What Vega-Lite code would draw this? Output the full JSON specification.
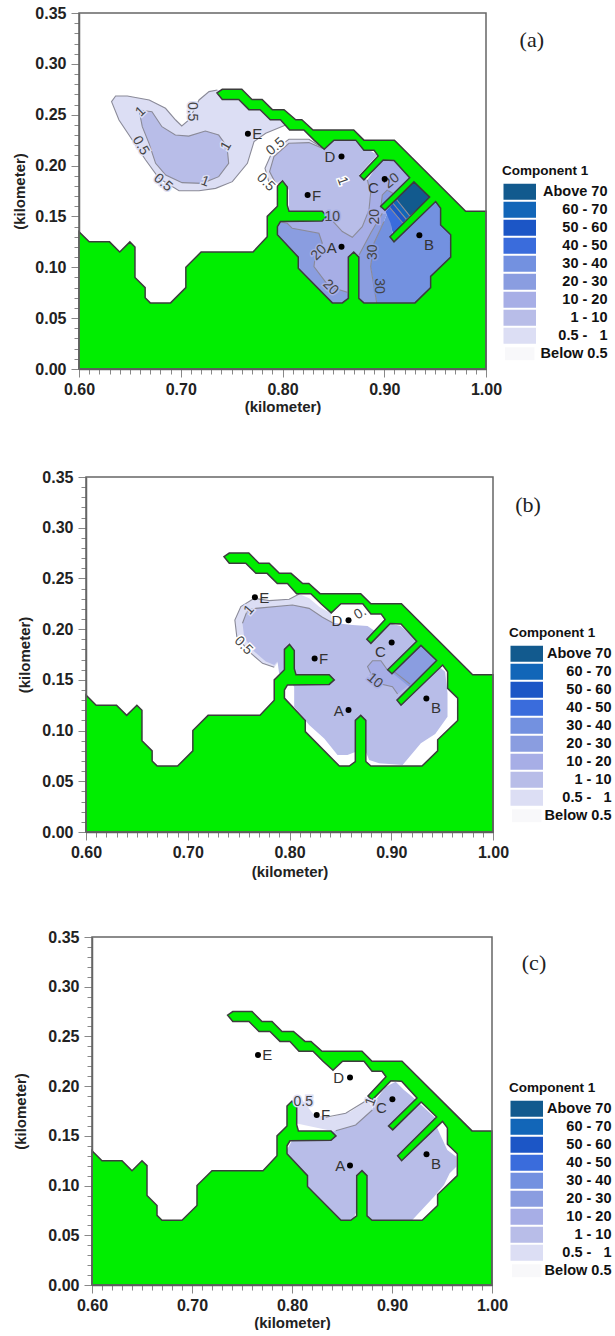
{"$schema":"https://vega.github.io/schema/vega-lite/v6.json","background":"white","padding":{"left":12,"top":5,"right":0,"bottom":0},"bounds":"flush","spacing":105,"config":{"view":{"stroke":null},"font":"Liberation Sans","axis":{"grid":false}},
"datasets":{
"land":[{"x":0.6,"y":0},{"x":0.6,"y":0.135},{"x":0.61,"y":0.125},{"x":0.63,"y":0.125},{"x":0.64,"y":0.115},{"x":0.65,"y":0.125},{"x":0.655,"y":0.12},{"x":0.655,"y":0.09},{"x":0.665,"y":0.08},{"x":0.665,"y":0.07},{"x":0.67,"y":0.065},{"x":0.69,"y":0.065},{"x":0.705,"y":0.08},{"x":0.705,"y":0.1},{"x":0.72,"y":0.115},{"x":0.771,"y":0.115},{"x":0.785,"y":0.13},{"x":0.785,"y":0.15},{"x":0.795,"y":0.16},{"x":0.795,"y":0.18},{"x":0.8,"y":0.185},{"x":0.8047,"y":0.179},{"x":0.8047,"y":0.161},{"x":0.8064,"y":0.155},{"x":0.839,"y":0.155},{"x":0.844,"y":0.15},{"x":0.839,"y":0.1455},{"x":0.798,"y":0.145},{"x":0.795,"y":0.14},{"x":0.795,"y":0.132},{"x":0.8155,"y":0.11},{"x":0.8155,"y":0.099},{"x":0.849,"y":0.065},{"x":0.8588,"y":0.065},{"x":0.8647,"y":0.0695},{"x":0.8647,"y":0.11},{"x":0.87,"y":0.115},{"x":0.875,"y":0.11},{"x":0.875,"y":0.0695},{"x":0.88,"y":0.065},{"x":0.9302,"y":0.065},{"x":0.9456,"y":0.08},{"x":0.9456,"y":0.091},{"x":0.9653,"y":0.11},{"x":0.9653,"y":0.132},{"x":0.9554,"y":0.1416},{"x":0.9554,"y":0.158},{"x":0.9505,"y":0.1646},{"x":0.9096,"y":0.125},{"x":0.9056,"y":0.13},{"x":0.9446,"y":0.169},{"x":0.9292,"y":0.184},{"x":0.9007,"y":0.156},{"x":0.8965,"y":0.16},{"x":0.925,"y":0.188},{"x":0.9096,"y":0.205},{"x":0.899,"y":0.2055},{"x":0.88,"y":0.186},{"x":0.876,"y":0.19},{"x":0.894,"y":0.2095},{"x":0.89,"y":0.215},{"x":0.88,"y":0.215},{"x":0.872,"y":0.225},{"x":0.8506,"y":0.225},{"x":0.841,"y":0.216},{"x":0.831,"y":0.225},{"x":0.821,"y":0.235},{"x":0.807,"y":0.235},{"x":0.798,"y":0.245},{"x":0.788,"y":0.245},{"x":0.778,"y":0.255},{"x":0.767,"y":0.255},{"x":0.757,"y":0.265},{"x":0.7408,"y":0.265},{"x":0.7356,"y":0.2714},{"x":0.7408,"y":0.275},{"x":0.76,"y":0.275},{"x":0.77,"y":0.265},{"x":0.78,"y":0.265},{"x":0.79,"y":0.255},{"x":0.8015,"y":0.255},{"x":0.813,"y":0.245},{"x":0.819,"y":0.245},{"x":0.83,"y":0.235},{"x":0.87,"y":0.235},{"x":0.88,"y":0.225},{"x":0.91,"y":0.225},{"x":0.98,"y":0.155},{"x":1.0,"y":0.155},{"x":1.0,"y":0},{"x":0.6,"y":0}],
"polys":[
{"p":"a","id":1,"level":"0.5 - 1","x":0.632,"y":0.2628},{"p":"a","id":1,"level":"0.5 - 1","x":0.636,"y":0.2684},{"p":"a","id":1,"level":"0.5 - 1","x":0.6475,"y":0.2684},{"p":"a","id":1,"level":"0.5 - 1","x":0.669,"y":0.2645},{"p":"a","id":1,"level":"0.5 - 1","x":0.685,"y":0.2563},{"p":"a","id":1,"level":"0.5 - 1","x":0.695,"y":0.2448},{"p":"a","id":1,"level":"0.5 - 1","x":0.701,"y":0.2389},{"p":"a","id":1,"level":"0.5 - 1","x":0.708,"y":0.2448},{"p":"a","id":1,"level":"0.5 - 1","x":0.718,"y":0.2645},{"p":"a","id":1,"level":"0.5 - 1","x":0.7278,"y":0.2727},{"p":"a","id":1,"level":"0.5 - 1","x":0.736,"y":0.2743},{"p":"a","id":1,"level":"0.5 - 1","x":0.76,"y":0.27},{"p":"a","id":1,"level":"0.5 - 1","x":0.82,"y":0.24},{"p":"a","id":1,"level":"0.5 - 1","x":0.8031,"y":0.2399},{"p":"a","id":1,"level":"0.5 - 1","x":0.7835,"y":0.2317},{"p":"a","id":1,"level":"0.5 - 1","x":0.772,"y":0.2235},{"p":"a","id":1,"level":"0.5 - 1","x":0.7655,"y":0.2022},{"p":"a","id":1,"level":"0.5 - 1","x":0.7507,"y":0.1842},{"p":"a","id":1,"level":"0.5 - 1","x":0.7343,"y":0.1776},{"p":"a","id":1,"level":"0.5 - 1","x":0.718,"y":0.1753},{"p":"a","id":1,"level":"0.5 - 1","x":0.6983,"y":0.1753},{"p":"a","id":1,"level":"0.5 - 1","x":0.6786,"y":0.1875},{"p":"a","id":1,"level":"0.5 - 1","x":0.6655,"y":0.2055},{"p":"a","id":1,"level":"0.5 - 1","x":0.6524,"y":0.2251},{"p":"a","id":1,"level":"0.5 - 1","x":0.6393,"y":0.2448},
{"p":"a","id":2,"level":"1 - 10","x":0.659,"y":0.2546},{"p":"a","id":2,"level":"1 - 10","x":0.6717,"y":0.253},{"p":"a","id":2,"level":"1 - 10","x":0.6815,"y":0.2382},{"p":"a","id":2,"level":"1 - 10","x":0.6947,"y":0.23},{"p":"a","id":2,"level":"1 - 10","x":0.7078,"y":0.229},{"p":"a","id":2,"level":"1 - 10","x":0.7242,"y":0.234},{"p":"a","id":2,"level":"1 - 10","x":0.7373,"y":0.23},{"p":"a","id":2,"level":"1 - 10","x":0.7455,"y":0.2186},{"p":"a","id":2,"level":"1 - 10","x":0.7471,"y":0.2022},{"p":"a","id":2,"level":"1 - 10","x":0.7373,"y":0.1891},{"p":"a","id":2,"level":"1 - 10","x":0.721,"y":0.1825},{"p":"a","id":2,"level":"1 - 10","x":0.7013,"y":0.1832},{"p":"a","id":2,"level":"1 - 10","x":0.6852,"y":0.1907},{"p":"a","id":2,"level":"1 - 10","x":0.6753,"y":0.2022},{"p":"a","id":2,"level":"1 - 10","x":0.6688,"y":0.2218},{"p":"a","id":2,"level":"1 - 10","x":0.6622,"y":0.2382},
{"p":"a","id":3,"level":"0.5 - 1","x":0.8407,"y":0.2164},{"p":"a","id":3,"level":"0.5 - 1","x":0.826,"y":0.2259},{"p":"a","id":3,"level":"0.5 - 1","x":0.8063,"y":0.2259},{"p":"a","id":3,"level":"0.5 - 1","x":0.79,"y":0.2137},{"p":"a","id":3,"level":"0.5 - 1","x":0.7828,"y":0.1973},{"p":"a","id":3,"level":"0.5 - 1","x":0.7883,"y":0.1777},{"p":"a","id":3,"level":"0.5 - 1","x":0.7998,"y":0.1842},{"p":"a","id":3,"level":"0.5 - 1","x":0.8227,"y":0.2088},
{"p":"a","id":4,"level":"10 - 20","x":0.7932,"y":0.1433},{"p":"a","id":4,"level":"10 - 20","x":0.8424,"y":0.1531},{"p":"a","id":4,"level":"10 - 20","x":0.8588,"y":0.1351},{"p":"a","id":4,"level":"10 - 20","x":0.8686,"y":0.1295},{"p":"a","id":4,"level":"10 - 20","x":0.8784,"y":0.14},{"p":"a","id":4,"level":"10 - 20","x":0.885,"y":0.1564},{"p":"a","id":4,"level":"10 - 20","x":0.8866,"y":0.1728},{"p":"a","id":4,"level":"10 - 20","x":0.8834,"y":0.1859},{"p":"a","id":4,"level":"10 - 20","x":0.8981,"y":0.2072},{"p":"a","id":4,"level":"10 - 20","x":0.9112,"y":0.2072},{"p":"a","id":4,"level":"10 - 20","x":0.9276,"y":0.1875},{"p":"a","id":4,"level":"10 - 20","x":0.903,"y":0.1531},{"p":"a","id":4,"level":"10 - 20","x":0.8981,"y":0.1531},{"p":"a","id":4,"level":"10 - 20","x":0.8866,"y":0.1334},{"p":"a","id":4,"level":"10 - 20","x":0.8752,"y":0.1121},{"p":"a","id":4,"level":"10 - 20","x":0.8702,"y":0.1007},{"p":"a","id":4,"level":"10 - 20","x":0.8702,"y":0.0613},{"p":"a","id":4,"level":"10 - 20","x":0.8457,"y":0.0613},{"p":"a","id":4,"level":"10 - 20","x":0.7916,"y":0.1302},
{"p":"a","id":5,"level":"1 - 10","x":0.8391,"y":0.217},{"p":"a","id":5,"level":"1 - 10","x":0.826,"y":0.2226},{"p":"a","id":5,"level":"1 - 10","x":0.8063,"y":0.2219},{"p":"a","id":5,"level":"1 - 10","x":0.7916,"y":0.2088},{"p":"a","id":5,"level":"1 - 10","x":0.7873,"y":0.1941},{"p":"a","id":5,"level":"1 - 10","x":0.7932,"y":0.1826},{"p":"a","id":5,"level":"1 - 10","x":0.7998,"y":0.1859},{"p":"a","id":5,"level":"1 - 10","x":0.8063,"y":0.176},{"p":"a","id":5,"level":"1 - 10","x":0.8063,"y":0.1531},{"p":"a","id":5,"level":"1 - 10","x":0.8424,"y":0.1531},{"p":"a","id":5,"level":"1 - 10","x":0.8588,"y":0.1351},{"p":"a","id":5,"level":"1 - 10","x":0.8686,"y":0.1295},{"p":"a","id":5,"level":"1 - 10","x":0.8784,"y":0.14},{"p":"a","id":5,"level":"1 - 10","x":0.885,"y":0.1564},{"p":"a","id":5,"level":"1 - 10","x":0.8866,"y":0.1728},{"p":"a","id":5,"level":"1 - 10","x":0.8834,"y":0.1859},{"p":"a","id":5,"level":"1 - 10","x":0.8752,"y":0.1908},{"p":"a","id":5,"level":"1 - 10","x":0.8932,"y":0.2105},{"p":"a","id":5,"level":"1 - 10","x":0.8801,"y":0.2186},{"p":"a","id":5,"level":"1 - 10","x":0.8702,"y":0.2285},{"p":"a","id":5,"level":"1 - 10","x":0.8506,"y":0.2285},
{"p":"a","id":6,"level":"20 - 30","x":0.7965,"y":0.1449},{"p":"a","id":6,"level":"20 - 30","x":0.8047,"y":0.1433},{"p":"a","id":6,"level":"20 - 30","x":0.8096,"y":0.1383},{"p":"a","id":6,"level":"20 - 30","x":0.8358,"y":0.1334},{"p":"a","id":6,"level":"20 - 30","x":0.8391,"y":0.1236},{"p":"a","id":6,"level":"20 - 30","x":0.8326,"y":0.1138},{"p":"a","id":6,"level":"20 - 30","x":0.8309,"y":0.1007},{"p":"a","id":6,"level":"20 - 30","x":0.8457,"y":0.081},{"p":"a","id":6,"level":"20 - 30","x":0.8637,"y":0.0754},{"p":"a","id":6,"level":"20 - 30","x":0.867,"y":0.0613},{"p":"a","id":6,"level":"20 - 30","x":0.8457,"y":0.0613},{"p":"a","id":6,"level":"20 - 30","x":0.7916,"y":0.1302},
{"p":"a","id":7,"level":"20 - 30","x":0.8981,"y":0.1531},{"p":"a","id":7,"level":"20 - 30","x":0.8866,"y":0.1334},{"p":"a","id":7,"level":"20 - 30","x":0.8752,"y":0.1121},{"p":"a","id":7,"level":"20 - 30","x":0.8702,"y":0.1007},{"p":"a","id":7,"level":"20 - 30","x":0.8702,"y":0.0613},{"p":"a","id":7,"level":"20 - 30","x":0.8932,"y":0.0613},{"p":"a","id":7,"level":"20 - 30","x":0.8866,"y":0.1007},{"p":"a","id":7,"level":"20 - 30","x":0.8899,"y":0.1236},{"p":"a","id":7,"level":"20 - 30","x":0.8997,"y":0.1449},{"p":"a","id":7,"level":"20 - 30","x":0.903,"y":0.1531},
{"p":"a","id":8,"level":"20 - 30","x":0.8965,"y":0.158},{"p":"a","id":8,"level":"20 - 30","x":0.8981,"y":0.1711},{"p":"a","id":8,"level":"20 - 30","x":0.903,"y":0.176},{"p":"a","id":8,"level":"20 - 30","x":0.9112,"y":0.1711},{"p":"a","id":8,"level":"20 - 30","x":0.903,"y":0.1547},
{"p":"a","id":9,"level":"30 - 40","x":0.903,"y":0.1531},{"p":"a","id":9,"level":"30 - 40","x":0.8997,"y":0.1449},{"p":"a","id":9,"level":"30 - 40","x":0.8899,"y":0.1236},{"p":"a","id":9,"level":"30 - 40","x":0.8866,"y":0.1007},{"p":"a","id":9,"level":"30 - 40","x":0.8932,"y":0.0613},{"p":"a","id":9,"level":"30 - 40","x":0.9325,"y":0.0613},{"p":"a","id":9,"level":"30 - 40","x":0.9669,"y":0.1089},{"p":"a","id":9,"level":"30 - 40","x":0.9669,"y":0.1334},{"p":"a","id":9,"level":"30 - 40","x":0.957,"y":0.1596},{"p":"a","id":9,"level":"30 - 40","x":0.9505,"y":0.1678},{"p":"a","id":9,"level":"30 - 40","x":0.9079,"y":0.1318},{"p":"a","id":9,"level":"30 - 40","x":0.9063,"y":0.1531},
{"p":"a","id":10,"level":"40 - 50","x":0.9014,"y":0.1547},{"p":"a","id":10,"level":"40 - 50","x":0.9053,"y":0.159},{"p":"a","id":10,"level":"40 - 50","x":0.9184,"y":0.1433},{"p":"a","id":10,"level":"40 - 50","x":0.9086,"y":0.1318},{"p":"a","id":10,"level":"40 - 50","x":0.9063,"y":0.1433},
{"p":"a","id":11,"level":"50 - 60","x":0.9053,"y":0.159},{"p":"a","id":11,"level":"50 - 60","x":0.9086,"y":0.1629},{"p":"a","id":11,"level":"50 - 60","x":0.9217,"y":0.1472},{"p":"a","id":11,"level":"50 - 60","x":0.9184,"y":0.1433},
{"p":"a","id":12,"level":"60 - 70","x":0.9086,"y":0.1629},{"p":"a","id":12,"level":"60 - 70","x":0.9119,"y":0.1669},{"p":"a","id":12,"level":"60 - 70","x":0.925,"y":0.1505},{"p":"a","id":12,"level":"60 - 70","x":0.9217,"y":0.1472},
{"p":"a","id":13,"level":"Above 70","x":0.9119,"y":0.1669},{"p":"a","id":13,"level":"Above 70","x":0.9292,"y":0.1859},{"p":"a","id":13,"level":"Above 70","x":0.9472,"y":0.1695},{"p":"a","id":13,"level":"Above 70","x":0.925,"y":0.1505},
{"p":"b","id":21,"level":"0.5 - 1","x":0.8095,"y":0.2347},{"p":"b","id":21,"level":"0.5 - 1","x":0.7997,"y":0.2294},{"p":"b","id":21,"level":"0.5 - 1","x":0.78,"y":0.2281},{"p":"b","id":21,"level":"0.5 - 1","x":0.7653,"y":0.2304},{"p":"b","id":21,"level":"0.5 - 1","x":0.7522,"y":0.2222},{"p":"b","id":21,"level":"0.5 - 1","x":0.7463,"y":0.209},{"p":"b","id":21,"level":"0.5 - 1","x":0.7482,"y":0.1926},{"p":"b","id":21,"level":"0.5 - 1","x":0.7603,"y":0.1778},{"p":"b","id":21,"level":"0.5 - 1","x":0.7735,"y":0.1663},{"p":"b","id":21,"level":"0.5 - 1","x":0.785,"y":0.1624},{"p":"b","id":21,"level":"0.5 - 1","x":0.7931,"y":0.1729},{"p":"b","id":21,"level":"0.5 - 1","x":0.8095,"y":0.1992},{"p":"b","id":21,"level":"0.5 - 1","x":0.8423,"y":0.2058},{"p":"b","id":21,"level":"0.5 - 1","x":0.8406,"y":0.2156},{"p":"b","id":21,"level":"0.5 - 1","x":0.8292,"y":0.2222},{"p":"b","id":21,"level":"0.5 - 1","x":0.8193,"y":0.2304},
{"p":"b","id":22,"level":"1 - 10","x":0.7538,"y":0.2058},{"p":"b","id":22,"level":"1 - 10","x":0.7587,"y":0.2189},{"p":"b","id":22,"level":"1 - 10","x":0.7669,"y":0.2205},{"p":"b","id":22,"level":"1 - 10","x":0.8029,"y":0.2238},{"p":"b","id":22,"level":"1 - 10","x":0.8193,"y":0.2205},{"p":"b","id":22,"level":"1 - 10","x":0.8324,"y":0.2117},{"p":"b","id":22,"level":"1 - 10","x":0.8423,"y":0.2064},{"p":"b","id":22,"level":"1 - 10","x":0.862,"y":0.2041},{"p":"b","id":22,"level":"1 - 10","x":0.8767,"y":0.2031},{"p":"b","id":22,"level":"1 - 10","x":0.8849,"y":0.1975},{"p":"b","id":22,"level":"1 - 10","x":0.898,"y":0.2058},{"p":"b","id":22,"level":"1 - 10","x":0.9094,"y":0.2031},{"p":"b","id":22,"level":"1 - 10","x":0.9209,"y":0.1926},{"p":"b","id":22,"level":"1 - 10","x":0.9406,"y":0.1729},{"p":"b","id":22,"level":"1 - 10","x":0.9471,"y":0.163},{"p":"b","id":22,"level":"1 - 10","x":0.953,"y":0.1581},{"p":"b","id":22,"level":"1 - 10","x":0.9553,"y":0.1367},{"p":"b","id":22,"level":"1 - 10","x":0.9553,"y":0.1137},{"p":"b","id":22,"level":"1 - 10","x":0.9432,"y":0.0966},{"p":"b","id":22,"level":"1 - 10","x":0.9291,"y":0.0874},{"p":"b","id":22,"level":"1 - 10","x":0.9111,"y":0.066},{"p":"b","id":22,"level":"1 - 10","x":0.8881,"y":0.0677},{"p":"b","id":22,"level":"1 - 10","x":0.8783,"y":0.071},{"p":"b","id":22,"level":"1 - 10","x":0.875,"y":0.0792},{"p":"b","id":22,"level":"1 - 10","x":0.8652,"y":0.0792},{"p":"b","id":22,"level":"1 - 10","x":0.857,"y":0.0759},{"p":"b","id":22,"level":"1 - 10","x":0.8472,"y":0.0759},{"p":"b","id":22,"level":"1 - 10","x":0.8341,"y":0.0923},{"p":"b","id":22,"level":"1 - 10","x":0.8193,"y":0.1055},{"p":"b","id":22,"level":"1 - 10","x":0.8046,"y":0.1236},{"p":"b","id":22,"level":"1 - 10","x":0.8046,"y":0.1433},{"p":"b","id":22,"level":"1 - 10","x":0.7997,"y":0.1499},{"p":"b","id":22,"level":"1 - 10","x":0.7898,"y":0.1564},{"p":"b","id":22,"level":"1 - 10","x":0.7882,"y":0.168},{"p":"b","id":22,"level":"1 - 10","x":0.785,"y":0.1647},{"p":"b","id":22,"level":"1 - 10","x":0.7767,"y":0.168},{"p":"b","id":22,"level":"1 - 10","x":0.7636,"y":0.1795},{"p":"b","id":22,"level":"1 - 10","x":0.7554,"y":0.1926},
{"p":"b","id":23,"level":"10 - 20","x":0.8767,"y":0.163},{"p":"b","id":23,"level":"10 - 20","x":0.8816,"y":0.1689},{"p":"b","id":23,"level":"10 - 20","x":0.8898,"y":0.1689},{"p":"b","id":23,"level":"10 - 20","x":0.8963,"y":0.1597},{"p":"b","id":23,"level":"10 - 20","x":0.9029,"y":0.1581},{"p":"b","id":23,"level":"10 - 20","x":0.9183,"y":0.1459},{"p":"b","id":23,"level":"10 - 20","x":0.9062,"y":0.136},{"p":"b","id":23,"level":"10 - 20","x":0.9012,"y":0.1433},{"p":"b","id":23,"level":"10 - 20","x":0.8898,"y":0.1459},{"p":"b","id":23,"level":"10 - 20","x":0.8799,"y":0.1564},
{"p":"b","id":24,"level":"20 - 30","x":0.9258,"y":0.1877},{"p":"b","id":24,"level":"20 - 30","x":0.9471,"y":0.1712},{"p":"b","id":24,"level":"20 - 30","x":0.9176,"y":0.1433},{"p":"b","id":24,"level":"20 - 30","x":0.8996,"y":0.1581},
{"p":"c","id":31,"level":"0.5 - 1","x":0.802,"y":0.1861},{"p":"c","id":31,"level":"0.5 - 1","x":0.8037,"y":0.1626},{"p":"c","id":31,"level":"0.5 - 1","x":0.8437,"y":0.1542},{"p":"c","id":31,"level":"0.5 - 1","x":0.8637,"y":0.1609},{"p":"c","id":31,"level":"0.5 - 1","x":0.882,"y":0.176},{"p":"c","id":31,"level":"0.5 - 1","x":0.8753,"y":0.1861},{"p":"c","id":31,"level":"0.5 - 1","x":0.8587,"y":0.1744},{"p":"c","id":31,"level":"0.5 - 1","x":0.8387,"y":0.1687},{"p":"c","id":31,"level":"0.5 - 1","x":0.822,"y":0.171},{"p":"c","id":31,"level":"0.5 - 1","x":0.8103,"y":0.1861},
{"p":"c","id":32,"level":"1 - 10","x":0.8003,"y":0.1459},{"p":"c","id":32,"level":"1 - 10","x":0.8437,"y":0.1552},{"p":"c","id":32,"level":"1 - 10","x":0.8637,"y":0.1609},{"p":"c","id":32,"level":"1 - 10","x":0.8803,"y":0.176},{"p":"c","id":32,"level":"1 - 10","x":0.8837,"y":0.1861},{"p":"c","id":32,"level":"1 - 10","x":0.8937,"y":0.1995},{"p":"c","id":32,"level":"1 - 10","x":0.9037,"y":0.2045},{"p":"c","id":32,"level":"1 - 10","x":0.912,"y":0.1962},{"p":"c","id":32,"level":"1 - 10","x":0.9203,"y":0.1894},{"p":"c","id":32,"level":"1 - 10","x":0.9437,"y":0.1676},{"p":"c","id":32,"level":"1 - 10","x":0.9453,"y":0.1576},{"p":"c","id":32,"level":"1 - 10","x":0.9553,"y":0.1358},{"p":"c","id":32,"level":"1 - 10","x":0.9643,"y":0.1291},{"p":"c","id":32,"level":"1 - 10","x":0.9643,"y":0.119},{"p":"c","id":32,"level":"1 - 10","x":0.9577,"y":0.1123},{"p":"c","id":32,"level":"1 - 10","x":0.952,"y":0.1006},{"p":"c","id":32,"level":"1 - 10","x":0.942,"y":0.0888},{"p":"c","id":32,"level":"1 - 10","x":0.9203,"y":0.0654},{"p":"c","id":32,"level":"1 - 10","x":0.877,"y":0.0637},{"p":"c","id":32,"level":"1 - 10","x":0.8737,"y":0.0721},{"p":"c","id":32,"level":"1 - 10","x":0.8637,"y":0.0721},{"p":"c","id":32,"level":"1 - 10","x":0.8603,"y":0.0637},{"p":"c","id":32,"level":"1 - 10","x":0.8503,"y":0.0637},{"p":"c","id":32,"level":"1 - 10","x":0.8137,"y":0.1006},{"p":"c","id":32,"level":"1 - 10","x":0.792,"y":0.1308}
],
"lines":[
{"p":"a","id":1,"x":0.736,"y":0.2743},{"p":"a","id":1,"x":0.7278,"y":0.2727},{"p":"a","id":1,"x":0.718,"y":0.2645},{"p":"a","id":1,"x":0.708,"y":0.2448},{"p":"a","id":1,"x":0.701,"y":0.2389},{"p":"a","id":1,"x":0.695,"y":0.2448},{"p":"a","id":1,"x":0.685,"y":0.2563},{"p":"a","id":1,"x":0.669,"y":0.2645},{"p":"a","id":1,"x":0.6475,"y":0.2684},{"p":"a","id":1,"x":0.636,"y":0.2684},{"p":"a","id":1,"x":0.632,"y":0.2628},{"p":"a","id":1,"x":0.6393,"y":0.2448},{"p":"a","id":1,"x":0.6524,"y":0.2251},{"p":"a","id":1,"x":0.6655,"y":0.2055},{"p":"a","id":1,"x":0.6786,"y":0.1875},{"p":"a","id":1,"x":0.6983,"y":0.1753},{"p":"a","id":1,"x":0.718,"y":0.1753},{"p":"a","id":1,"x":0.7343,"y":0.1776},{"p":"a","id":1,"x":0.7507,"y":0.1842},{"p":"a","id":1,"x":0.7655,"y":0.2022},{"p":"a","id":1,"x":0.772,"y":0.2235},{"p":"a","id":1,"x":0.7835,"y":0.2317},{"p":"a","id":1,"x":0.8031,"y":0.2399},{"p":"a","id":1,"x":0.808,"y":0.24},
{"p":"a","id":2,"x":0.659,"y":0.2546},{"p":"a","id":2,"x":0.6717,"y":0.253},{"p":"a","id":2,"x":0.6815,"y":0.2382},{"p":"a","id":2,"x":0.6947,"y":0.23},{"p":"a","id":2,"x":0.7078,"y":0.229},{"p":"a","id":2,"x":0.7242,"y":0.234},{"p":"a","id":2,"x":0.7373,"y":0.23},{"p":"a","id":2,"x":0.7455,"y":0.2186},{"p":"a","id":2,"x":0.7471,"y":0.2022},{"p":"a","id":2,"x":0.7373,"y":0.1891},{"p":"a","id":2,"x":0.721,"y":0.1825},{"p":"a","id":2,"x":0.7013,"y":0.1832},{"p":"a","id":2,"x":0.6852,"y":0.1907},{"p":"a","id":2,"x":0.6753,"y":0.2022},{"p":"a","id":2,"x":0.6688,"y":0.2218},{"p":"a","id":2,"x":0.6622,"y":0.2382},{"p":"a","id":2,"x":0.659,"y":0.2546},
{"p":"a","id":3,"x":0.8407,"y":0.2164},{"p":"a","id":3,"x":0.826,"y":0.2259},{"p":"a","id":3,"x":0.8063,"y":0.2259},{"p":"a","id":3,"x":0.79,"y":0.2137},{"p":"a","id":3,"x":0.7828,"y":0.1973},{"p":"a","id":3,"x":0.7883,"y":0.1777},
{"p":"a","id":4,"x":0.8391,"y":0.217},{"p":"a","id":4,"x":0.826,"y":0.2226},{"p":"a","id":4,"x":0.8063,"y":0.2219},{"p":"a","id":4,"x":0.7916,"y":0.2088},{"p":"a","id":4,"x":0.7873,"y":0.1941},{"p":"a","id":4,"x":0.7932,"y":0.1826},
{"p":"a","id":5,"x":0.8424,"y":0.1531},{"p":"a","id":5,"x":0.8588,"y":0.1351},{"p":"a","id":5,"x":0.8686,"y":0.1295},{"p":"a","id":5,"x":0.8784,"y":0.14},{"p":"a","id":5,"x":0.885,"y":0.1564},{"p":"a","id":5,"x":0.8866,"y":0.1728},{"p":"a","id":5,"x":0.8834,"y":0.1859},
{"p":"a","id":6,"x":0.7965,"y":0.1449},{"p":"a","id":6,"x":0.8047,"y":0.1433},{"p":"a","id":6,"x":0.8096,"y":0.1383},{"p":"a","id":6,"x":0.8358,"y":0.1334},{"p":"a","id":6,"x":0.8391,"y":0.1236},{"p":"a","id":6,"x":0.8326,"y":0.1138},{"p":"a","id":6,"x":0.8309,"y":0.1007},{"p":"a","id":6,"x":0.8457,"y":0.081},{"p":"a","id":6,"x":0.8637,"y":0.0754},
{"p":"a","id":7,"x":0.8981,"y":0.1531},{"p":"a","id":7,"x":0.8866,"y":0.1334},{"p":"a","id":7,"x":0.8752,"y":0.1121},
{"p":"a","id":8,"x":0.8997,"y":0.1449},{"p":"a","id":8,"x":0.8899,"y":0.1236},{"p":"a","id":8,"x":0.8866,"y":0.1007},{"p":"a","id":8,"x":0.8932,"y":0.0613},
{"p":"a","id":9,"x":0.8965,"y":0.158},{"p":"a","id":9,"x":0.8981,"y":0.1711},{"p":"a","id":9,"x":0.903,"y":0.176},{"p":"a","id":9,"x":0.9112,"y":0.1711},
{"p":"a","id":10,"x":0.9053,"y":0.159},{"p":"a","id":10,"x":0.9184,"y":0.1433},
{"p":"a","id":11,"x":0.9086,"y":0.1629},{"p":"a","id":11,"x":0.9217,"y":0.1472},
{"p":"a","id":12,"x":0.9119,"y":0.1669},{"p":"a","id":12,"x":0.925,"y":0.1505},
{"p":"b","id":21,"x":0.8095,"y":0.2347},{"p":"b","id":21,"x":0.7997,"y":0.2294},{"p":"b","id":21,"x":0.78,"y":0.2281},{"p":"b","id":21,"x":0.7653,"y":0.2304},{"p":"b","id":21,"x":0.7522,"y":0.2222},{"p":"b","id":21,"x":0.7463,"y":0.209},{"p":"b","id":21,"x":0.7482,"y":0.1926},{"p":"b","id":21,"x":0.7603,"y":0.1778},{"p":"b","id":21,"x":0.7735,"y":0.1663},{"p":"b","id":21,"x":0.785,"y":0.1624},
{"p":"b","id":22,"x":0.7538,"y":0.2058},{"p":"b","id":22,"x":0.7587,"y":0.2189},{"p":"b","id":22,"x":0.7669,"y":0.2205},{"p":"b","id":22,"x":0.8029,"y":0.2238},{"p":"b","id":22,"x":0.8193,"y":0.2205},{"p":"b","id":22,"x":0.8324,"y":0.2117},{"p":"b","id":22,"x":0.8423,"y":0.2064},
{"p":"b","id":23,"x":0.9183,"y":0.1459},{"p":"b","id":23,"x":0.9029,"y":0.1581},{"p":"b","id":23,"x":0.8963,"y":0.1597},{"p":"b","id":23,"x":0.8898,"y":0.1689},{"p":"b","id":23,"x":0.8816,"y":0.1689},{"p":"b","id":23,"x":0.8767,"y":0.163},{"p":"b","id":23,"x":0.8799,"y":0.1564},{"p":"b","id":23,"x":0.8898,"y":0.1459},{"p":"b","id":23,"x":0.9012,"y":0.1433},{"p":"b","id":23,"x":0.9062,"y":0.136},
{"p":"c","id":31,"x":0.8437,"y":0.1552},{"p":"c","id":31,"x":0.8637,"y":0.1609},{"p":"c","id":31,"x":0.8803,"y":0.176},
{"p":"c","id":32,"x":0.8337,"y":0.1687},{"p":"c","id":32,"x":0.8537,"y":0.1727},{"p":"c","id":32,"x":0.8753,"y":0.1861}
],
"labels":[
{"p":"a","t":"0.5","x":0.7107,"y":0.253,"a":90,"bg":"0.5 - 1"},{"p":"a","t":"1","x":0.6606,"y":0.253,"a":-45,"bg":"0.5 - 1"},{"p":"a","t":"0.5","x":0.6606,"y":0.2196,"a":60,"bg":"0.5 - 1"},{"p":"a","t":"0.5","x":0.6826,"y":0.1832,"a":40,"bg":"0.5 - 1"},{"p":"a","t":"1","x":0.7448,"y":0.2192,"a":-60,"bg":"0.5 - 1"},{"p":"a","t":"1","x":0.7239,"y":0.1842,"a":20,"bg":"0.5 - 1"},{"p":"a","t":"0.5","x":0.7933,"y":0.2186,"a":-40,"bg":"Below 0.5"},{"p":"a","t":"0.5","x":0.7835,"y":0.1835,"a":45,"bg":"Below 0.5"},{"p":"a","t":"1","x":0.8588,"y":0.1849,"a":70,"bg":"Below 0.5"},{"p":"a","t":"10","x":0.849,"y":0.1492,"a":0,"bg":"10 - 20"},{"p":"a","t":"20","x":0.9073,"y":0.1849,"a":-40,"bg":"10 - 20"},{"p":"a","t":"20","x":0.8909,"y":0.1498,"a":-90,"bg":"10 - 20"},{"p":"a","t":"20","x":0.8358,"y":0.1144,"a":-45,"bg":"10 - 20"},{"p":"a","t":"20","x":0.8473,"y":0.0803,"a":45,"bg":"10 - 20"},{"p":"a","t":"30","x":0.889,"y":0.1147,"a":-90,"bg":"20 - 30"},{"p":"a","t":"30","x":0.8948,"y":0.0816,"a":90,"bg":"30 - 40"},
{"p":"b","t":"1","x":0.7604,"y":0.2189,"a":-50,"bg":"0.5 - 1"},{"p":"b","t":"0.5","x":0.7548,"y":0.1837,"a":45,"bg":"Below 0.5"},{"p":"b","t":"0.","x":0.8695,"y":0.2156,"a":-30,"bg":"Below 0.5"},{"p":"b","t":"10","x":0.8839,"y":0.1492,"a":40,"bg":"10 - 20"},
{"p":"c","t":"0.5","x":0.8113,"y":0.1844,"a":0,"bg":"0.5 - 1"},{"p":"c","t":"1","x":0.8787,"y":0.1844,"a":-70,"bg":"0.5 - 1"}
],
"sites":[{"s":"A","x":0.858,"y":0.1203},{"s":"B","x":0.9345,"y":0.1315},{"s":"C","x":0.9004,"y":0.1868},{"s":"D","x":0.858,"y":0.2088},{"s":"E","x":0.766,"y":0.2314},{"s":"F","x":0.8247,"y":0.1711}],
"siteLabels":[{"s":"A","x":0.8483,"y":0.1193},{"s":"B","x":0.944,"y":0.122},{"s":"C","x":0.8893,"y":0.1777},{"s":"D","x":0.8466,"y":0.2082},{"s":"E","x":0.7752,"y":0.2311},{"s":"F","x":0.8336,"y":0.1705}],
"frame":[{"x":0.6,"x2":1.0,"y":0,"y2":0.35}],
"tags":[{"p":"a","t":"(a)","x":1.045,"y":0.3235},{"p":"b","t":"(b)","x":1.0344,"y":0.3225},{"p":"c","t":"(c)","x":1.042,"y":0.324}]
},
"resolve":{"scale":{"fill":"independent","stroke":"independent"},"legend":{"fill":"independent"}},
"vconcat":[
{"width":414,"height":359,
"encoding":{"x":{"field":"x","type":"quantitative","scale":{"domain":[0.6,1.0],"range":[0,407]},"axis":{"title":"(kilometer)","titleFont":"Liberation Sans","titleFontSize":15,"titleFontWeight":"bold","titleColor":"#222","titlePadding":2,"values":[0.6,0.61,0.62,0.63,0.64,0.65,0.66,0.67,0.68,0.69,0.7,0.71,0.72,0.73,0.74,0.75,0.76,0.77,0.78,0.79,0.8,0.81,0.82,0.83,0.84,0.85,0.86,0.87,0.88,0.89,0.9,0.91,0.92,0.93,0.94,0.95,0.96,0.97,0.98,0.99,1.0],"labelExpr":"round(datum.value*100)%10==0?format(datum.value,'.2f'):''","labelOverlap":false,"labelBound":false,"labelFlush":false,"labelFont":"Liberation Sans","labelFontSize":16,"labelFontWeight":"bold","labelColor":"#222","labelPadding":4,"tickColor":"#888","tickSize":{"condition":{"test":"round(datum.value*100)%10==0","value":8},"value":5},"domainColor":"#666","domainWidth":1.5}},
"y":{"field":"y","type":"quantitative","scale":{"domain":[0,0.35],"range":[359,3]},"axis":{"title":"(kilometer)","titleFont":"Liberation Sans","titleFontSize":15,"titleFontWeight":"bold","titleColor":"#222","titlePadding":7,"values":[0,0.01,0.02,0.03,0.04,0.05,0.06,0.07,0.08,0.09,0.1,0.11,0.12,0.13,0.14,0.15,0.16,0.17,0.18,0.19,0.2,0.21,0.22,0.23,0.24,0.25,0.26,0.27,0.28,0.29,0.3,0.31,0.32,0.33,0.34,0.35],"labelExpr":"round(datum.value*100)%5==0?format(datum.value,'.2f'):''","labelOverlap":false,"labelBound":false,"labelFont":"Liberation Sans","labelFontSize":16,"labelFontWeight":"bold","labelColor":"#222","labelPadding":5,"tickColor":"#888","tickSize":{"condition":{"test":"round(datum.value*100)%5==0","value":8},"value":5},"domainColor":"#666","domainWidth":1.5}}},
"layer":[
{"data":{"name":"polys"},"transform":[{"filter":"datum.p=='a'"}],"mark":{"type":"point","filled":true,"size":0,"stroke":"#aaaaaa","opacity":1},"encoding":{"fill":{"field":"level","type":"nominal","scale":{"domain":["Above 70","60 - 70","50 - 60","40 - 50","30 - 40","20 - 30","10 - 20","1 - 10","0.5 - 1","Below 0.5"],"range":["#125a8e","#1266b8","#1c56c6","#3a6cdc","#7391e0","#8a9de0","#a7aee6","#b8bde8","#dcdef4","#f8f8fa"]},"legend":{"orient":"none","legendX":423,"legendY":154,"title":"Component 1","titleFont":"Liberation Sans","titleFontSize":13.5,"titleFontWeight":"bold","titleColor":"#111","titlePadding":7,"labelFont":"Liberation Sans","labelFontSize":14.5,"labelFontWeight":"bold","labelColor":"#111","labelAlign":"right","labelOffset":91,"labelExpr":"datum.label=='0.5 - 1'?'0.5 -\u00a0\u00a0\u00a01':datum.label=='1 - 10'?'1 -\u00a010':datum.label","symbolType":"M-1,-1.45L5.2,-1.45L5.2,1.45L-1,1.45Z","symbolSize":100,"rowPadding":-4.6,"padding":0,"encode":{"symbols":{"stroke":{"value":"#aaaaaa"},"strokeWidth":{"value":1.5}}}}}}},
{"data":{"name":"polys"},"transform":[{"filter":"datum.p=='a'"},{"window":[{"op":"row_number","as":"i"}]}],"mark":{"type":"line","filled":true,"strokeWidth":0},"encoding":{"order":{"field":"i","type":"quantitative"},"detail":{"field":"id"},"fill":{"field":"level","type":"nominal"}}},
{"data":{"name":"lines"},"transform":[{"filter":"datum.p=='a'"},{"window":[{"op":"row_number","as":"i"}]}],"mark":{"type":"line","stroke":"#8a8a98","strokeWidth":1.1},"encoding":{"order":{"field":"i","type":"quantitative"},"detail":{"field":"id"}}},
{"data":{"name":"land"},"transform":[{"window":[{"op":"row_number","as":"i"}]}],"mark":{"type":"line","filled":true,"fill":"#00ee00","stroke":"#3c3c3c","strokeWidth":1.5},"encoding":{"order":{"field":"i","type":"quantitative"}}},
{"data":{"name":"labels"},"transform":[{"filter":"datum.p=='a'"}],"mark":{"type":"text","fontSize":14,"strokeWidth":3},"encoding":{"text":{"field":"t"},"angle":{"field":"a","type":"quantitative","scale":null},"stroke":{"field":"bg","type":"nominal","scale":{"domain":["Above 70","60 - 70","50 - 60","40 - 50","30 - 40","20 - 30","10 - 20","1 - 10","0.5 - 1","Below 0.5"],"range":["#125a8e","#1266b8","#1c56c6","#3a6cdc","#7391e0","#8a9de0","#a7aee6","#b8bde8","#dcdef4","#ffffff"]},"legend":null}}},
{"data":{"name":"labels"},"transform":[{"filter":"datum.p=='a'"}],"mark":{"type":"text","fontSize":14,"color":"#444"},"encoding":{"text":{"field":"t"},"angle":{"field":"a","type":"quantitative","scale":null}}},
{"data":{"name":"sites"},"mark":{"type":"circle","size":36,"color":"#000","opacity":1}},
{"data":{"name":"siteLabels"},"mark":{"type":"text","fontSize":15,"color":"#333"},"encoding":{"text":{"field":"s"}}},
{"data":{"name":"frame"},"mark":{"type":"rect","filled":false,"stroke":"#666","strokeWidth":1.5},"encoding":{"x2":{"field":"x2"},"y2":{"field":"y2"}}},
{"data":{"name":"tags"},"transform":[{"filter":"datum.p=='a'"}],"mark":{"type":"text","font":"Liberation Serif","fontSize":22,"color":"#222"},"encoding":{"text":{"field":"t"}}}
]},
{"width":414,"height":358,
"encoding":{"x":{"field":"x","type":"quantitative","scale":{"domain":[0.6,1.0],"range":[7,414]},"axis":{"title":"(kilometer)","titleFont":"Liberation Sans","titleFontSize":15,"titleFontWeight":"bold","titleColor":"#222","titlePadding":4,"values":[0.6,0.61,0.62,0.63,0.64,0.65,0.66,0.67,0.68,0.69,0.7,0.71,0.72,0.73,0.74,0.75,0.76,0.77,0.78,0.79,0.8,0.81,0.82,0.83,0.84,0.85,0.86,0.87,0.88,0.89,0.9,0.91,0.92,0.93,0.94,0.95,0.96,0.97,0.98,0.99,1.0],"labelExpr":"round(datum.value*100)%10==0?format(datum.value,'.2f'):''","labelOverlap":false,"labelBound":false,"labelFlush":false,"labelFont":"Liberation Sans","labelFontSize":16,"labelFontWeight":"bold","labelColor":"#222","labelPadding":4,"tickColor":"#888","tickSize":{"condition":{"test":"round(datum.value*100)%10==0","value":8},"value":5},"domainColor":"#666","domainWidth":1.5}},
"y":{"field":"y","type":"quantitative","scale":{"domain":[0,0.35],"range":[358,3]},"axis":{"offset":-7,"title":"(kilometer)","titleFont":"Liberation Sans","titleFontSize":15,"titleFontWeight":"bold","titleColor":"#222","titlePadding":9,"values":[0,0.01,0.02,0.03,0.04,0.05,0.06,0.07,0.08,0.09,0.1,0.11,0.12,0.13,0.14,0.15,0.16,0.17,0.18,0.19,0.2,0.21,0.22,0.23,0.24,0.25,0.26,0.27,0.28,0.29,0.3,0.31,0.32,0.33,0.34,0.35],"labelExpr":"round(datum.value*100)%5==0?format(datum.value,'.2f'):''","labelOverlap":false,"labelBound":false,"labelFont":"Liberation Sans","labelFontSize":16,"labelFontWeight":"bold","labelColor":"#222","labelPadding":5,"tickColor":"#888","tickSize":{"condition":{"test":"round(datum.value*100)%5==0","value":8},"value":5},"domainColor":"#666","domainWidth":1.5}}},
"layer":[
{"data":{"name":"polys"},"transform":[{"filter":"datum.p=='b'"}],"mark":{"type":"point","filled":true,"size":0,"stroke":"#aaaaaa","opacity":1},"encoding":{"fill":{"field":"level","type":"nominal","scale":{"domain":["Above 70","60 - 70","50 - 60","40 - 50","30 - 40","20 - 30","10 - 20","1 - 10","0.5 - 1","Below 0.5"],"range":["#125a8e","#1266b8","#1c56c6","#3a6cdc","#7391e0","#8a9de0","#a7aee6","#b8bde8","#dcdef4","#f8f8fa"]},"legend":{"orient":"none","legendX":430,"legendY":152,"title":"Component 1","titleFont":"Liberation Sans","titleFontSize":13.5,"titleFontWeight":"bold","titleColor":"#111","titlePadding":7,"labelFont":"Liberation Sans","labelFontSize":14.5,"labelFontWeight":"bold","labelColor":"#111","labelAlign":"right","labelOffset":88,"labelExpr":"datum.label=='0.5 - 1'?'0.5 -\u00a0\u00a0\u00a01':datum.label=='1 - 10'?'1 -\u00a010':datum.label","symbolType":"M-1,-1.45L5.2,-1.45L5.2,1.45L-1,1.45Z","symbolSize":100,"rowPadding":-4.6,"padding":0,"encode":{"symbols":{"stroke":{"value":"#aaaaaa"},"strokeWidth":{"value":1.5}}}}}}},
{"data":{"name":"polys"},"transform":[{"filter":"datum.p=='b'"},{"window":[{"op":"row_number","as":"i"}]}],"mark":{"type":"line","filled":true,"strokeWidth":0},"encoding":{"order":{"field":"i","type":"quantitative"},"detail":{"field":"id"},"fill":{"field":"level","type":"nominal"}}},
{"data":{"name":"lines"},"transform":[{"filter":"datum.p=='b'"},{"window":[{"op":"row_number","as":"i"}]}],"mark":{"type":"line","stroke":"#8a8a98","strokeWidth":1.1},"encoding":{"order":{"field":"i","type":"quantitative"},"detail":{"field":"id"}}},
{"data":{"name":"land"},"transform":[{"window":[{"op":"row_number","as":"i"}]}],"mark":{"type":"line","filled":true,"fill":"#00ee00","stroke":"#3c3c3c","strokeWidth":1.5},"encoding":{"order":{"field":"i","type":"quantitative"}}},
{"data":{"name":"labels"},"transform":[{"filter":"datum.p=='b'"}],"mark":{"type":"text","fontSize":14,"strokeWidth":3},"encoding":{"text":{"field":"t"},"angle":{"field":"a","type":"quantitative","scale":null},"stroke":{"field":"bg","type":"nominal","scale":{"domain":["Above 70","60 - 70","50 - 60","40 - 50","30 - 40","20 - 30","10 - 20","1 - 10","0.5 - 1","Below 0.5"],"range":["#125a8e","#1266b8","#1c56c6","#3a6cdc","#7391e0","#8a9de0","#a7aee6","#b8bde8","#dcdef4","#ffffff"]},"legend":null}}},
{"data":{"name":"labels"},"transform":[{"filter":"datum.p=='b'"}],"mark":{"type":"text","fontSize":14,"color":"#444"},"encoding":{"text":{"field":"t"},"angle":{"field":"a","type":"quantitative","scale":null}}},
{"data":{"name":"sites"},"mark":{"type":"circle","size":36,"color":"#000","opacity":1}},
{"data":{"name":"siteLabels"},"mark":{"type":"text","fontSize":15,"color":"#333"},"encoding":{"text":{"field":"s"}}},
{"data":{"name":"frame"},"mark":{"type":"rect","filled":false,"stroke":"#666","strokeWidth":1.5},"encoding":{"x2":{"field":"x2"},"y2":{"field":"y2"}}},
{"data":{"name":"tags"},"transform":[{"filter":"datum.p=='b'"}],"mark":{"type":"text","font":"Liberation Serif","fontSize":22,"color":"#222"},"encoding":{"text":{"field":"t"}}}
]},
{"width":414,"height":348,
"encoding":{"x":{"field":"x","type":"quantitative","scale":{"domain":[0.6,1.0],"range":[13,413]},"axis":{"title":"(kilometer)","titleFont":"Liberation Sans","titleFontSize":15,"titleFontWeight":"bold","titleColor":"#222","titlePadding":2,"values":[0.6,0.61,0.62,0.63,0.64,0.65,0.66,0.67,0.68,0.69,0.7,0.71,0.72,0.73,0.74,0.75,0.76,0.77,0.78,0.79,0.8,0.81,0.82,0.83,0.84,0.85,0.86,0.87,0.88,0.89,0.9,0.91,0.92,0.93,0.94,0.95,0.96,0.97,0.98,0.99,1.0],"labelExpr":"round(datum.value*100)%10==0?format(datum.value,'.2f'):''","labelOverlap":false,"labelBound":false,"labelFlush":false,"labelFont":"Liberation Sans","labelFontSize":16,"labelFontWeight":"bold","labelColor":"#222","labelPadding":4,"tickColor":"#888","tickSize":{"condition":{"test":"round(datum.value*100)%10==0","value":8},"value":5},"domainColor":"#666","domainWidth":1.5}},
"y":{"field":"y","type":"quantitative","scale":{"domain":[0,0.35],"range":[348,0]},"axis":{"offset":-13,"title":"(kilometer)","titleFont":"Liberation Sans","titleFontSize":15,"titleFontWeight":"bold","titleColor":"#222","titlePadding":19,"values":[0,0.01,0.02,0.03,0.04,0.05,0.06,0.07,0.08,0.09,0.1,0.11,0.12,0.13,0.14,0.15,0.16,0.17,0.18,0.19,0.2,0.21,0.22,0.23,0.24,0.25,0.26,0.27,0.28,0.29,0.3,0.31,0.32,0.33,0.34,0.35],"labelExpr":"round(datum.value*100)%5==0?format(datum.value,'.2f'):''","labelOverlap":false,"labelBound":false,"labelFont":"Liberation Sans","labelFontSize":16,"labelFontWeight":"bold","labelColor":"#222","labelPadding":5,"tickColor":"#888","tickSize":{"condition":{"test":"round(datum.value*100)%5==0","value":8},"value":5},"domainColor":"#666","domainWidth":1.5}}},
"layer":[
{"data":{"name":"polys"},"transform":[{"filter":"datum.p=='c'"}],"mark":{"type":"point","filled":true,"size":0,"stroke":"#aaaaaa","opacity":1},"encoding":{"fill":{"field":"level","type":"nominal","scale":{"domain":["Above 70","60 - 70","50 - 60","40 - 50","30 - 40","20 - 30","10 - 20","1 - 10","0.5 - 1","Below 0.5"],"range":["#125a8e","#1266b8","#1c56c6","#3a6cdc","#7391e0","#8a9de0","#a7aee6","#b8bde8","#dcdef4","#f8f8fa"]},"legend":{"orient":"none","legendX":430,"legendY":144,"title":"Component 1","titleFont":"Liberation Sans","titleFontSize":13.5,"titleFontWeight":"bold","titleColor":"#111","titlePadding":7,"labelFont":"Liberation Sans","labelFontSize":14.5,"labelFontWeight":"bold","labelColor":"#111","labelAlign":"right","labelOffset":88,"labelExpr":"datum.label=='0.5 - 1'?'0.5 -\u00a0\u00a0\u00a01':datum.label=='1 - 10'?'1 -\u00a010':datum.label","symbolType":"M-1,-1.45L5.2,-1.45L5.2,1.45L-1,1.45Z","symbolSize":100,"rowPadding":-4.6,"padding":0,"encode":{"symbols":{"stroke":{"value":"#aaaaaa"},"strokeWidth":{"value":1.5}}}}}}},
{"data":{"name":"polys"},"transform":[{"filter":"datum.p=='c'"},{"window":[{"op":"row_number","as":"i"}]}],"mark":{"type":"line","filled":true,"strokeWidth":0},"encoding":{"order":{"field":"i","type":"quantitative"},"detail":{"field":"id"},"fill":{"field":"level","type":"nominal"}}},
{"data":{"name":"lines"},"transform":[{"filter":"datum.p=='c'"},{"window":[{"op":"row_number","as":"i"}]}],"mark":{"type":"line","stroke":"#8a8a98","strokeWidth":1.1},"encoding":{"order":{"field":"i","type":"quantitative"},"detail":{"field":"id"}}},
{"data":{"name":"land"},"transform":[{"window":[{"op":"row_number","as":"i"}]}],"mark":{"type":"line","filled":true,"fill":"#00ee00","stroke":"#3c3c3c","strokeWidth":1.5},"encoding":{"order":{"field":"i","type":"quantitative"}}},
{"data":{"name":"labels"},"transform":[{"filter":"datum.p=='c'"}],"mark":{"type":"text","fontSize":14,"strokeWidth":3},"encoding":{"text":{"field":"t"},"angle":{"field":"a","type":"quantitative","scale":null},"stroke":{"field":"bg","type":"nominal","scale":{"domain":["Above 70","60 - 70","50 - 60","40 - 50","30 - 40","20 - 30","10 - 20","1 - 10","0.5 - 1","Below 0.5"],"range":["#125a8e","#1266b8","#1c56c6","#3a6cdc","#7391e0","#8a9de0","#a7aee6","#b8bde8","#dcdef4","#ffffff"]},"legend":null}}},
{"data":{"name":"labels"},"transform":[{"filter":"datum.p=='c'"}],"mark":{"type":"text","fontSize":14,"color":"#444"},"encoding":{"text":{"field":"t"},"angle":{"field":"a","type":"quantitative","scale":null}}},
{"data":{"name":"sites"},"mark":{"type":"circle","size":36,"color":"#000","opacity":1}},
{"data":{"name":"siteLabels"},"mark":{"type":"text","fontSize":15,"color":"#333"},"encoding":{"text":{"field":"s"}}},
{"data":{"name":"frame"},"mark":{"type":"rect","filled":false,"stroke":"#666","strokeWidth":1.5},"encoding":{"x2":{"field":"x2"},"y2":{"field":"y2"}}},
{"data":{"name":"tags"},"transform":[{"filter":"datum.p=='c'"}],"mark":{"type":"text","font":"Liberation Serif","fontSize":22,"color":"#222"},"encoding":{"text":{"field":"t"}}}
]}
]}
